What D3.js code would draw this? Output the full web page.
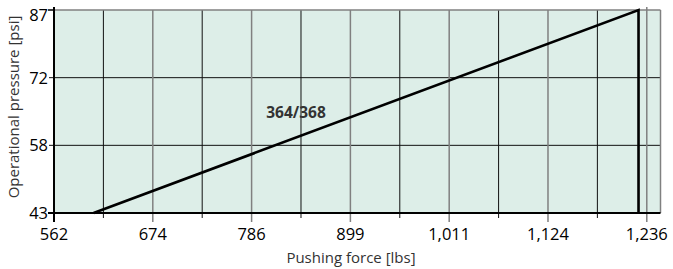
<!DOCTYPE html>
<html>
<head>
<meta charset="utf-8">
<script src="https://cdn.jsdelivr.net/npm/d3@7"></script>
<style>
  body { margin: 0; background: #fff; }
  text { font-family: "Open Sans", sans-serif; }
</style>
</head>
<body>
<svg id="chart" width="673" height="269"></svg>
<script>
// tick values (lbs / psi) and the labels printed for them
var xTicks = [562, 674.4, 786.8, 899.2, 1011.6, 1124, 1236.4];
var xTickLabels = ["562", "674", "786", "899", "1,011", "1,124", "1,236"];
var xMinor = [618.2, 730.6, 843, 955.4, 1067.8, 1180.2];
var yTicks = [43.5, 58, 72.5, 87];
var yTickLabels = ["43", "58", "72", "87"];

// curve 364/368: force vs pressure, then max stroke drop
var curveForce = [607, 1227, 1227];
var curvePressure = [43.5, 87, 43.5];
var curveName = "364/368";

var svg = d3.select("#chart");
var pLeft = 54, pRight = 660.5, pTop = 10, pBottom = 213;

var x = d3.scaleLinear().domain([562, 1252]).range([pLeft, pRight]);
var y = d3.scaleLinear().domain([43.5, 87]).range([pBottom, pTop]);

svg.append("rect").attr("x", pLeft).attr("y", pTop)
  .attr("width", pRight - pLeft).attr("height", pBottom - pTop)
  .attr("fill", "#ddeee8");

// minor verticals (black, thin)
svg.selectAll(".minor").data(xMinor).enter().append("line")
  .attr("x1", d => x(d)).attr("x2", d => x(d))
  .attr("y1", pTop).attr("y2", pBottom + 5)
  .attr("stroke", "#111").attr("stroke-width", 1);

// horizontal grid
svg.selectAll(".hgrid").data(yTicks.slice(1, -1)).enter().append("line")
  .attr("x1", pLeft - 5).attr("x2", pRight)
  .attr("y1", d => y(d)).attr("y2", d => y(d))
  .attr("stroke", "#111").attr("stroke-width", 1);

// major verticals (grey)
svg.selectAll(".major").data(xTicks).enter().append("line")
  .attr("x1", d => x(d)).attr("x2", d => x(d))
  .attr("y1", (d, i) => i == xTicks.length - 1 ? pTop - 3 : pTop).attr("y2", pBottom + 9)
  .attr("stroke", "#808080").attr("stroke-width", 1.5);

// top and right border
svg.append("line").attr("x1", pLeft).attr("x2", pRight).attr("y1", pTop).attr("y2", pTop)
  .attr("stroke", "#808080").attr("stroke-width", 1.5);
svg.append("line").attr("x1", pRight).attr("x2", pRight).attr("y1", pTop).attr("y2", pBottom)
  .attr("stroke", "#808080").attr("stroke-width", 1.5);

// left axis + bottom axis (black)
svg.append("line").attr("x1", pLeft).attr("x2", pLeft).attr("y1", pTop - 3).attr("y2", pBottom + 9)
  .attr("stroke", "#000").attr("stroke-width", 2);
svg.append("line").attr("x1", pLeft - 6).attr("x2", pRight).attr("y1", pBottom).attr("y2", pBottom)
  .attr("stroke", "#000").attr("stroke-width", 2);
svg.append("line").attr("x1", pLeft - 6).attr("x2", pLeft).attr("y1", pTop).attr("y2", pTop)
  .attr("stroke", "#000").attr("stroke-width", 1.5);

// curve
var pts = curveForce.map((f, i) => [f, curvePressure[i]]);
svg.append("path")
  .attr("d", d3.line().x(d => x(d[0])).y(d => y(d[1]))(pts))
  .attr("fill", "none").attr("stroke", "#000").attr("stroke-width", 2.6);

svg.append("text").attr("x", 296).attr("y", 118)
  .attr("text-anchor", "middle").attr("font-size", 15.5).attr("font-weight", "bold")
  .attr("fill", "#333").text(curveName);

// tick labels
svg.selectAll(".xl").data(xTicks).enter().append("text")
  .attr("x", d => x(d)).attr("y", 240)
  .attr("text-anchor", "middle").attr("font-size", 16.5).attr("fill", "#000")
  .text((d, i) => xTickLabels[i]);

// top label sits just under the line so it stays inside the picture
svg.selectAll(".yl").data(yTicks).enter().append("text")
  .attr("x", pLeft - 6).attr("y", (d, i) => i == yTicks.length - 1 ? y(d) + 11 : y(d) + 6)
  .attr("text-anchor", "end").attr("font-size", 16.5).attr("fill", "#000")
  .text((d, i) => yTickLabels[i]);

// axis titles
svg.append("text").attr("x", 351).attr("y", 263)
  .attr("text-anchor", "middle").attr("font-size", 15).attr("fill", "#333")
  .text("Pushing force [lbs]");
svg.append("text").attr("transform", "translate(19,107) rotate(-90)")
  .attr("text-anchor", "middle").attr("font-size", 15).attr("fill", "#333")
  .text("Operational pressure [psi]");
</script>
</body>
</html>
